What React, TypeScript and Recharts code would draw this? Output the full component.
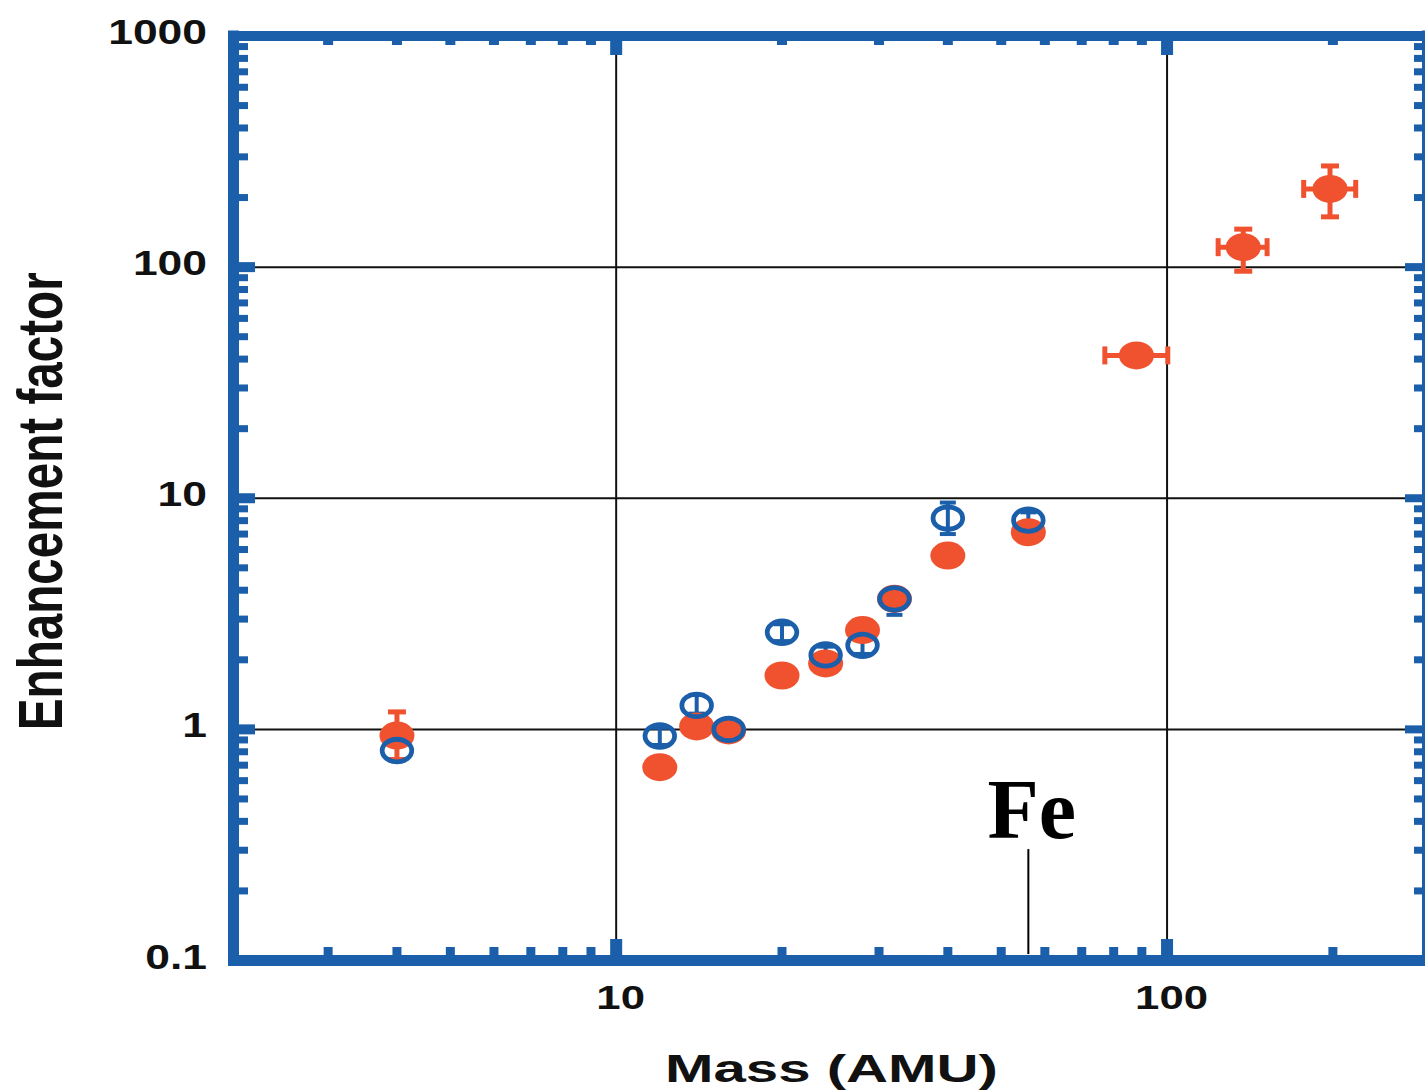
import React from 'react';
import {
  ScatterChart,
  Scatter,
  XAxis,
  YAxis,
  ErrorBar,
  ReferenceLine,
  ReferenceDot,
} from 'recharts';

const BLUE = '#1b5eaa';
const RED = '#f0522f';
const SANS = '"Liberation Sans", Arial, Helvetica, sans-serif';
const SERIF = '"Liberation Serif", "Times New Roman", serif';

// ---- data: filled (red) series ----
const redMass = [4, 12, 14, 16, 20, 24, 28, 32, 40, 56, 88, 137.5, 197.6];
const redEnh = [0.94, 0.686, 1.03, 0.99, 1.71, 1.93, 2.69, 3.67, 5.65, 7.13, 41.5, 122, 218];
const redErrYLow = [0.2, 0, 0, 0, 0, 0, 0, 0, 0, 0, 0, 26, 53];
const redErrYHigh = [0.25, 0, 0, 0, 0, 0, 0, 0, 0, 0, 0, 24, 56];
const redErrXLow = [0, 0, 0, 0, 0, 0, 0, 0, 0, 0, 10.9, 13.7, 20.6];
const redErrXHigh = [0, 0, 0, 0, 0, 0, 0, 0, 0, 0, 12.3, 14.4, 22.4];

// ---- data: open (blue) series ----
const blueMass = [4, 12, 14, 16, 20, 24, 28, 32, 40, 56];
const blueEnh = [0.81, 0.936, 1.27, 1.0, 2.63, 2.1, 2.31, 3.67, 8.2, 8.04];
const blueErrLow = [0.07, 0.08, 0.1, 0.08, 0.22, 0.18, 0.19, 0.54, 1.2, 0.65];
const blueErrHigh = [0.07, 0.08, 0.14, 0.08, 0.22, 0.18, 0.19, 0.4, 1.38, 0.65];

// ---- axes ----
const X_DOMAIN = [2.02, 297];
const Y_DOMAIN = [0.1, 1000];
const xTicks = [3, 4, 5, 6, 7, 8, 9, 10, 20, 30, 40, 50, 60, 70, 80, 90, 100, 200];
const yTicks = [
  0.1, 0.2, 0.3, 0.4, 0.5, 0.6, 0.7, 0.8, 0.9,
  1, 2, 3, 4, 5, 6, 7, 8, 9,
  10, 20, 30, 40, 50, 60, 70, 80, 90,
  100, 200, 300, 400, 500, 600, 700, 800, 900, 1000,
];
const xLabels: Record<string, string> = { '10': '10', '100': '100' };
const yLabels: Record<string, string> = { '0.1': '0.1', '1': '1', '10': '10', '100': '100', '1000': '1000' };
const xGrid = [10, 100];
const yGrid = [1, 10, 100];

// ---- annotation ----
const FE_MASS = 56;
const FE_LINE_BOTTOM = 0.1066;
const FE_LINE_TOP = 0.3035;
const FE_TEXT = 'Fe';

const redData = redMass.map((m, i) => ({
  x: m,
  y: redEnh[i],
  ex: [redErrXLow[i], redErrXHigh[i]],
  ey: [redErrYLow[i], redErrYHigh[i]],
}));
const blueData = blueMass.map((m, i) => ({
  x: m,
  y: blueEnh[i],
  ey: [blueErrLow[i], blueErrHigh[i]],
}));

// ---- layout ----
const BORDER = 11;
const HALF = BORDER / 2;
const TOP_BORDER = 10;
const PLOT_TOP = 36;
const TOP_AXIS_H = 1;

const isDecade = (v: number) => Math.abs(Math.log10(v) - Math.round(Math.log10(v))) < 1e-9;

const labelLen = (s: string, digit: number) => {
  let n = 0;
  for (const c of s) n += c === '.' ? digit * 0.5 : digit;
  return n;
};

// bottom axis tick: draws the bottom mark, the mirrored top mark and the label
const BottomTick = (props: any) => {
  const { x, y, payload } = props;
  const v = payload.value;
  const major = isDecade(v);
  const th = major ? 12 : 9;
  const len = major ? 16 : 8;
  const topTh = major ? 12 : 10;
  const topLen = major ? 14 : 4;
  const lab = xLabels[String(v)];
  return (
    <g>
      <rect x={x - th / 2} y={y - HALF - len} width={th} height={len + HALF} fill={BLUE} />
      <rect
        x={x - topTh / 2}
        y={PLOT_TOP}
        width={topTh}
        height={TOP_BORDER / 2 + topLen}
        fill={BLUE}
      />
      {lab && (
        <text
          x={x + 4.5}
          y={y + 48.5}
          textAnchor="middle"
          fontFamily={SANS}
          fontWeight="bold"
          fontSize={34}
          fill="#111"
          textLength={labelLen(lab, 24.3)}
          lengthAdjust="spacingAndGlyphs"
        >
          {lab}
        </text>
      )}
    </g>
  );
};

const LeftTick = (props: any) => {
  const { x, y, payload } = props;
  const v = payload.value;
  const major = isDecade(v);
  const th = major ? 10 : 7;
  const len = major ? 16 : 9;
  const lab = yLabels[String(v)];
  return (
    <g>
      <rect x={x} y={y - th / 2} width={HALF + len} height={th} fill={BLUE} />
      {lab && (
        <text
          x={x - 26.5}
          y={y + 8}
          textAnchor="end"
          fontFamily={SANS}
          fontWeight="bold"
          fontSize={35}
          fill="#111"
          textLength={labelLen(lab, 24.7)}
          lengthAdjust="spacingAndGlyphs"
        >
          {lab}
        </text>
      )}
    </g>
  );
};

const RightTick = (props: any) => {
  const { x, y, payload } = props;
  const v = payload.value;
  const major = isDecade(v);
  const th = major ? 8 : 7;
  const len = major ? 17 : 8;
  return <rect x={x - HALF - len} y={y - th / 2} width={HALF + len} height={th} fill={BLUE} />;
};

const YTitle = (props: any) => {
  const vb = props.viewBox || { x: 0, y: 36, width: 233.5, height: 924.5 };
  const bx = vb.x + 62;
  const cy = vb.y + vb.height / 2 + 3;
  return (
    <text
      x={bx}
      y={cy}
      transform={`rotate(-90, ${bx}, ${cy})`}
      textAnchor="middle"
      fontFamily={SANS}
      fontWeight="bold"
      fontSize={63}
      fill="#111"
      textLength={458}
      lengthAdjust="spacingAndGlyphs"
    >
      Enhancement factor
    </text>
  );
};

const XTitle = (props: any) => {
  const vb = props.viewBox || { x: 233.5, y: 960.5, width: 1194, height: 129.5 };
  return (
    <text
      x={vb.x + vb.width / 2 + 1}
      y={vb.y + 121.5}
      textAnchor="middle"
      fontFamily={SANS}
      fontWeight="bold"
      fontSize={38}
      fill="#111"
      textLength={333}
      lengthAdjust="spacingAndGlyphs"
    >
      Mass (AMU)
    </text>
  );
};

const RedDot = (props: any) => {
  const { cx, cy } = props;
  if (cx == null || cy == null) return <g />;
  return <ellipse cx={cx} cy={cy} rx={17.5} ry={14} fill={RED} />;
};

const BlueRing = (props: any) => {
  const { cx, cy } = props;
  if (cx == null || cy == null) return <g />;
  return <ellipse cx={cx} cy={cy} rx={14.8} ry={11.3} fill="none" stroke={BLUE} strokeWidth={4.8} />;
};

const Nothing = () => <g />;

const FeLabel = (props: any) => {
  const { cx, cy } = props;
  return (
    <text
      x={cx + 3.5}
      y={cy - 11}
      textAnchor="middle"
      fontFamily={SERIF}
      fontWeight="bold"
      fontSize={84}
      fill="#000"
    >
      {FE_TEXT}
    </text>
  );
};

export default function App() {
  return (
    <div
      style={{
        position: 'absolute',
        left: 0,
        top: 0,
        width: 1425,
        height: 1090,
        overflow: 'hidden',
        background: '#fff',
      }}
    >
      <ScatterChart
        width={1440}
        height={1090}
        margin={{ top: PLOT_TOP - TOP_AXIS_H, right: 11.5, bottom: 0, left: 0 }}
      >
        <XAxis
          xAxisId={0}
          dataKey="x"
          type="number"
          scale="log"
          domain={X_DOMAIN}
          allowDataOverflow
          ticks={xTicks}
          interval={0}
          orientation="bottom"
          height={129.5}
          tickSize={0}
          tickMargin={0}
          tickLine={false}
          axisLine={{ stroke: BLUE, strokeWidth: BORDER, strokeLinecap: 'square' }}
          tick={<BottomTick />}
          label={<XTitle />}
        />
        <XAxis
          xAxisId="top"
          type="number"
          scale="log"
          domain={X_DOMAIN}
          allowDataOverflow
          orientation="top"
          height={TOP_AXIS_H}
          tick={false}
          tickLine={false}
          axisLine={{ stroke: BLUE, strokeWidth: TOP_BORDER, strokeLinecap: 'square' }}
        />
        <YAxis
          yAxisId={0}
          dataKey="y"
          type="number"
          scale="log"
          domain={Y_DOMAIN}
          allowDataOverflow
          ticks={yTicks}
          interval={0}
          orientation="left"
          width={233.5}
          tickSize={0}
          tickMargin={0}
          tickLine={false}
          axisLine={{ stroke: BLUE, strokeWidth: BORDER, strokeLinecap: 'square' }}
          tick={<LeftTick />}
          label={<YTitle />}
        />
        <YAxis
          yAxisId="right"
          type="number"
          scale="log"
          domain={Y_DOMAIN}
          allowDataOverflow
          ticks={yTicks}
          interval={0}
          orientation="right"
          width={1}
          tickSize={0}
          tickMargin={0}
          tickLine={false}
          axisLine={{ stroke: BLUE, strokeWidth: BORDER, strokeLinecap: 'square' }}
          tick={<RightTick />}
        />

        {xGrid.map((v) => (
          <ReferenceLine key={'gx' + v} x={v} stroke="#111" strokeWidth={2} />
        ))}
        {yGrid.map((v) => (
          <ReferenceLine key={'gy' + v} y={v} stroke="#111" strokeWidth={2} />
        ))}
        <ReferenceLine
          segment={[
            { x: FE_MASS, y: FE_LINE_BOTTOM },
            { x: FE_MASS, y: FE_LINE_TOP },
          ]}
          stroke="#000"
          strokeWidth={2}
        />
        <ReferenceDot x={FE_MASS} y={FE_LINE_TOP} r={0} shape={<FeLabel />} />

        <Scatter name="blue-errors" data={blueData} shape={<Nothing />} isAnimationActive={false}>
          <ErrorBar dataKey="ey" direction="y" width={8} stroke={BLUE} strokeWidth={4} />
        </Scatter>
        <Scatter name="filled" data={redData} shape={<RedDot />} isAnimationActive={false}>
          <ErrorBar dataKey="ey" direction="y" width={9} stroke={RED} strokeWidth={5} />
          <ErrorBar dataKey="ex" direction="x" width={9} stroke={RED} strokeWidth={5} />
        </Scatter>
        <Scatter name="open" data={blueData} shape={<BlueRing />} isAnimationActive={false} />
      </ScatterChart>
    </div>
  );
}
